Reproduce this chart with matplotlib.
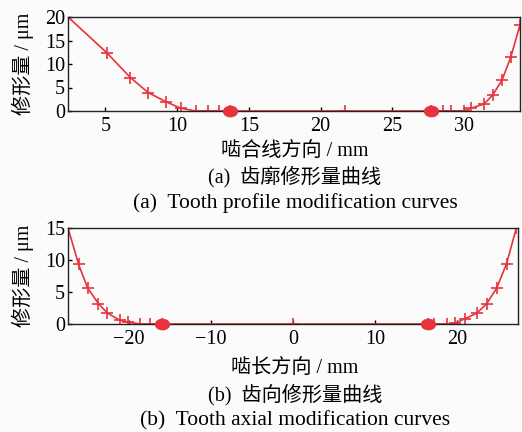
import matplotlib
matplotlib.use('Agg')
import matplotlib.pyplot as plt
from matplotlib.path import Path
from matplotlib.transforms import Affine2D

# (a) tooth profile modification
prof_x = [2.4, 5.1, 6.75, 8.0, 9.2, 10.25, 11.3, 12.15, 12.9, 13.7,
          21.7, 27.7, 28.5, 29.1, 30.0, 30.5, 31.4, 32.0, 32.65, 33.25, 33.9]
prof_y = [20, 12.4, 7.1, 3.9, 2.0, 0.6, 0, 0, 0, 0,
          0, 0, 0, 0, 0, 0.6, 1.5, 3.4, 6.6, 11.4, 18.3]
prof_dots = [13.7, 27.7]

# (b) tooth axial (lead) modification
lead_x = [-27.4, -26.1, -25.0, -23.7, -22.6, -21.1, -20.1, -18.6, -17.4, -16.0,
          0, 16.4, 17.2, 18.7, 19.7, 20.9, 22.4, 23.6, 24.8, 26.0, 27.2]
lead_y = [15, 9.3, 5.6, 3.2, 1.7, 0.6, 0.3, 0, 0, 0,
          0, 0, 0, 0, 0.1, 0.8, 1.7, 3.2, 5.6, 9.4, 15]
lead_dots = [-16.0, 16.4]

RED = '#e8323c'
plt.rcParams['font.family'] = ['Liberation Serif', 'Noto Sans CJK SC']
plt.rcParams['axes.unicode_minus'] = True

# flattened dot used for the end points of the unmodified zone
ellipse = Path.unit_circle().transformed(Affine2D().scale(1.35, 1.0))

fig = plt.figure(figsize=(5.22, 4.32), dpi=100)
fig.patch.set_facecolor('#fbfbfb')


def style(ax):
    ax.set_facecolor('#fbfbfb')
    ax.tick_params(direction='in', length=3, width=1, labelsize=14.5,
                   top=False, right=False)
    ax.tick_params(axis='x', pad=4)
    ax.tick_params(axis='y', pad=2)
    for sp in ax.spines.values():
        sp.set_linewidth(1.0)
        sp.set_color('#222222')


ax1 = fig.add_axes([68 / 522, 1 - 111 / 432, 452 / 522, 94 / 432])
ax1.plot(prof_x, prof_y, color=RED, lw=1.2, marker='+', ms=9, mew=1.2)
ax1.plot(prof_dots, [0] * len(prof_dots), ls='none', marker=ellipse,
         color=RED, ms=10, clip_on=False, zorder=5)
ax1.set_xlim(2.4, 33.9)
ax1.set_ylim(0, 20)
ax1.set_xticks([5, 10, 15, 20, 25, 30])
ax1.set_yticks([0, 5, 10, 15, 20])
style(ax1)
ax1.set_ylabel('修形量 / μm', fontsize=14.5, labelpad=8)

ax2 = fig.add_axes([68 / 522, 1 - 324 / 432, 450 / 522, 96 / 432])
ax2.plot(lead_x, lead_y, color=RED, lw=1.2, marker='+', ms=9, mew=1.2)
ax2.plot(lead_dots, [0] * len(lead_dots), ls='none', marker=ellipse,
         color=RED, ms=10, clip_on=False, zorder=5)
ax2.set_xlim(-27.4, 27.4)
ax2.set_ylim(0, 15)
ax2.set_xticks([-20, -10, 0, 10, 20])
ax2.set_yticks([0, 5, 10, 15])
style(ax2)
ax2.set_ylabel('修形量 / μm', fontsize=14.5, labelpad=8)

cx = 295 / 522
fig.text(cx, 1 - 151 / 432, '啮合线方向 / mm', ha='center', va='center', fontsize=14.5)
fig.text(cx, 1 - 177 / 432, '(a)  齿廓修形量曲线', ha='center', va='center', fontsize=14.5)
fig.text(cx, 1 - 203 / 432, '(a)  Tooth profile modification curves',
         ha='center', va='center', fontsize=15.5)
fig.text(cx, 1 - 368 / 432, '啮长方向 / mm', ha='center', va='center', fontsize=14.5)
fig.text(cx, 1 - 395 / 432, '(b)  齿向修形量曲线', ha='center', va='center', fontsize=14.5)
fig.text(cx, 1 - 421 / 432, '(b)  Tooth axial modification curves',
         ha='center', va='center', fontsize=15.5)

fig.savefig('out.png', dpi=100, facecolor=fig.get_facecolor())
